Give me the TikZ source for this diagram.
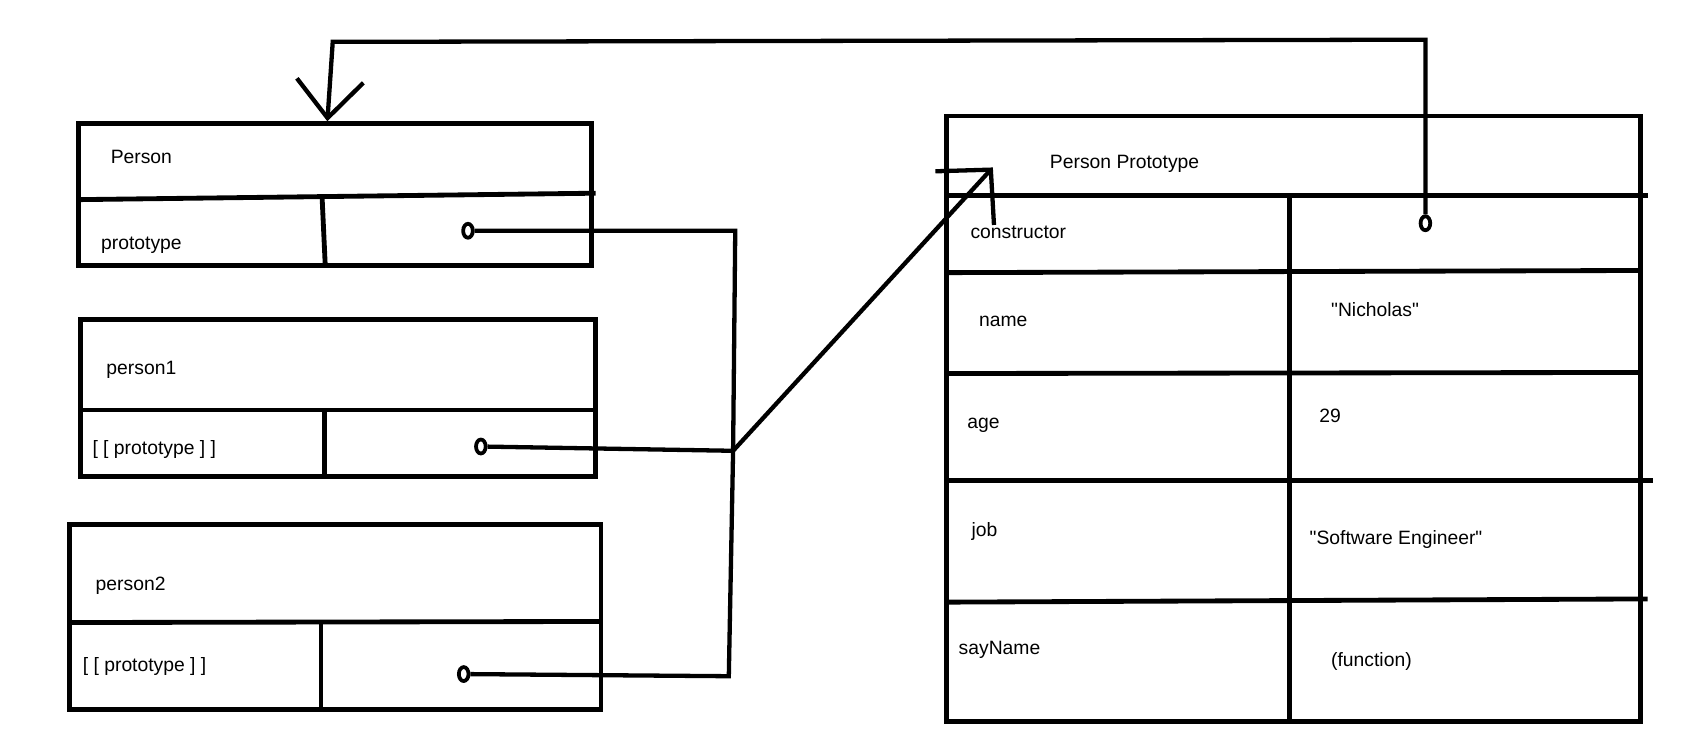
\documentclass[tikz,border=0pt]{standalone}
\usepackage{fontspec}
\setmainfont{Liberation Sans}
\usetikzlibrary{arrows.meta, shapes.geometric}

\begin{document}
\begin{tikzpicture}[x=1pt,y=-1pt]
        % Line widths (adjust as needed)
        \def\frameWidth{4.5pt}
        \def\wireWidth{4pt}

        \tikzset{
            box/.style={draw, rectangle, line width=\frameWidth, inner sep=0pt},
            cell/.style={line width=\frameWidth},
            lbl/.style={anchor=base west, inner sep=0pt, font=\fontsize{18}{22}\selectfont},
            dot/.style={draw, ellipse, fill=white, line width=3.5pt, minimum width=9pt, minimum height=13pt, inner sep=0pt},
            wire/.style={line width=\wireWidth},
        }

        \useasboundingbox (0,0) rectangle (1568,700);

        % Person (constructor)
        \node[box, minimum width=478pt, minimum height=132pt] (person) at (312,181) {};
        \draw[cell] (73,186) -- (555,180);
        \draw[cell] (300,182) -- (303,247);
        \node[lbl] (personName) at (103,152) {Person};
        \node[lbl] (personProp) at (94,232) {prototype};

        % person1 instance
        \node[box, minimum width=480pt, minimum height=146pt] (personA) at (315,371) {};
        \draw[cell] (75,382) -- (555,382);
        \draw[cell] (302,382) -- (302,446);
        \node[lbl] (personAName) at (99,349) {person1};
        \node[lbl] (personAProp) at (86,423) {[ [ prototype ] ]};

        % person2 instance
        \node[box, minimum width=495pt, minimum height=172pt] (personB) at (312.5,575) {};
        \draw[cell] (65,580) -- (560,579);
        \draw[cell] (299,580) -- (299,663);
        \node[lbl] (personBName) at (89,550) {person2};
        \node[lbl] (personBProp) at (77,626) {[ [ prototype ] ]};

        % Person Prototype table
        \node[box, minimum width=646pt, minimum height=564pt] (proto) at (1205,390) {};
        \draw[cell] (882,182) -- (1535,182);
        \draw[cell] (884,254) -- (1528,252);
        \draw[cell] (882,348) -- (1528,347);
        \draw[cell] (882,448) -- (1540,448);
        \draw[cell] (882,561) -- (1535,558);
        \draw[cell] (1201,182) -- (1201,674);
        \node[lbl] (protoName) at (978,157) {Person Prototype};
        \node[lbl] (keyCtor) at (904,222) {constructor};
        \node[lbl] (keyName) at (912,304) {name};
        \node[lbl] (keyAge) at (901,399) {age};
        \node[lbl] (keyJob) at (905,500) {job};
        \node[lbl] (keySay) at (893,610) {sayName};
        \node[lbl] (valName) at (1240,295) {\textquotedbl Nicholas\textquotedbl};
        \node[lbl] (valAge) at (1229,394) {29};
        \node[lbl] (valJob) at (1220,507) {\textquotedbl Software Engineer\textquotedbl};
        \node[lbl] (valSay) at (1240,621) {(function)};

        % Dots
        \node[dot] (dotPerson) at (436,215) {};
        \node[dot] (dotPersonA) at (448,416) {};
        \node[dot] (dotPersonB) at (432,628) {};
        \node[dot] (dotCtor) at (1328,208) {};

        % Pointer ends
        \coordinate (joint) at (683,420);
        \coordinate (protoTip) at (925,156);
        \coordinate (personTop) at (305,113);

        % prototype pointers
        \draw[wire] (dotPerson) -- (685,215) -- (joint);
        \draw[wire] (dotPersonA) -- (joint);
        \draw[wire] (dotPersonB) -- (679,630) -- (joint);
        \draw[wire, -{Straight Barb[length=36pt, width=74pt]}] (joint) -- (protoTip);

        % constructor pointer
        \draw[wire, -{Straight Barb[length=35pt, width=62pt]}] (dotCtor) -- (1328,37) -- (310,39) -- (personTop);
\end{tikzpicture}
\end{document}
